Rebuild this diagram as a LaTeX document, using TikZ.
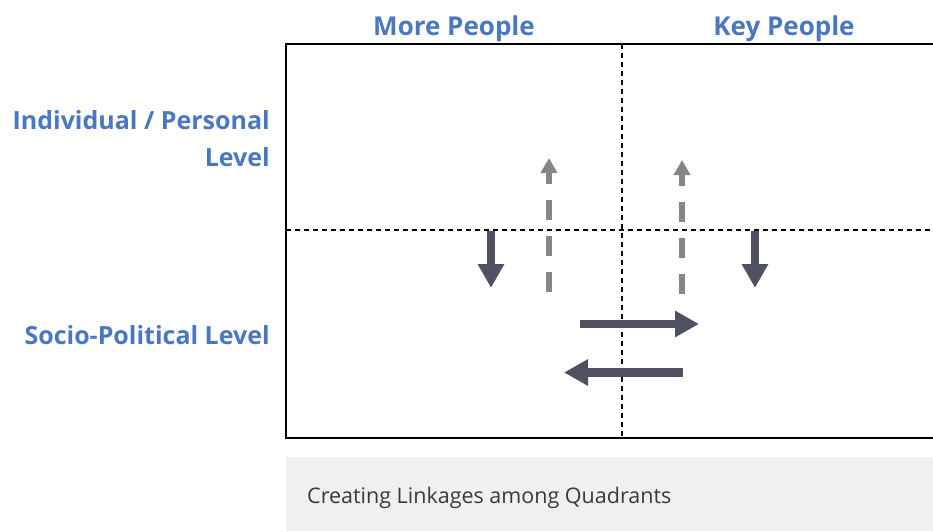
\documentclass[tikz,border=0pt]{standalone}
\usepackage{fontspec}
\setmainfont{Open Sans}
\usetikzlibrary{arrows.meta}
\definecolor{hblue}{HTML}{4A78C0}
\definecolor{darkarrow}{HTML}{4F5160}
\definecolor{grayarrow}{HTML}{858585}
\definecolor{capbg}{HTML}{F0F0F0}
\definecolor{captext}{HTML}{3A3A3A}
\tikzset{
  header/.style={font=\fontsize{26}{30}\selectfont\bfseries, text=hblue, inner sep=0pt, anchor=base},
  rowlabel/.style={font=\fontsize{25}{37}\selectfont\bfseries, text=hblue, inner sep=0pt, anchor=base east, align=right},
  solidarrow/.style={draw=darkarrow, line width=8.5pt, -{Triangle[width=25pt,length=24pt]}},
  dasharrow/.style={draw=grayarrow, line width=6pt, dash pattern=on 20pt off 16pt, -{Triangle[width=16pt,length=15pt]}},
  divider/.style={draw=black, line width=1.6pt, dash pattern=on 5pt off 4pt},
}
\begin{document}
\begin{tikzpicture}[x=1pt,y=-1pt]
\useasboundingbox (0,0) rectangle (933,531);
% caption
\fill[capbg] (286,457) rectangle (940,531);
\node[font=\fontsize{21.5}{25}\selectfont, text=captext, inner sep=0pt, anchor=base west] (cap) at (307,503) {Creating Linkages among Quadrants};
% frame
\draw[line width=2pt] (940,44) -- (286,44) -- (286,438) -- (940,438);
% dividers
\coordinate (vt) at (622,44);
\coordinate (vb) at (622,438);
\coordinate (hl) at (286,230);
\coordinate (hr) at (933,230);
\draw[divider] (vt) -- (vb);
\draw[divider] (hl) -- (hr);
% headers
\node[header] (more) at (454,35) {More People};
\node[header] (key) at (784,35) {Key People};
\node[rowlabel] (indiv) at (270,166) {Individual / Personal\\Level};
\node[rowlabel] (socio) at (270,344) {Socio-Political Level};
% arrow endpoints
\coordinate (d1s) at (491,231);
\coordinate (d1e) at (491,288);
\coordinate (d2s) at (755,231);
\coordinate (d2e) at (755,288);
\coordinate (u1s) at (549,292);
\coordinate (u1e) at (549,158);
\coordinate (u2s) at (682,294);
\coordinate (u2e) at (682,160);
\coordinate (rs) at (580,324);
\coordinate (re) at (699,324);
\coordinate (ls) at (683,372.5);
\coordinate (le) at (564,372.5);
% arrows
\draw[solidarrow] (d1s) -- (d1e);
\draw[solidarrow] (d2s) -- (d2e);
\draw[dasharrow] (u1s) -- (u1e);
\draw[dasharrow] (u2s) -- (u2e);
\draw[solidarrow] (rs) -- (re);
\draw[solidarrow] (ls) -- (le);
\end{tikzpicture}
\end{document}
